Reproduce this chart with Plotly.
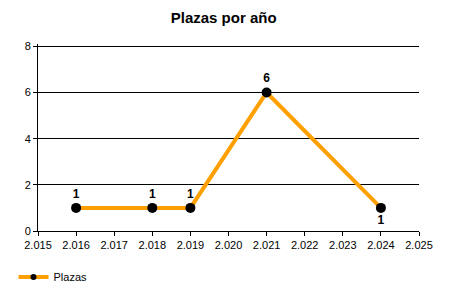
import plotly.graph_objects as go

years = [2016, 2018, 2019, 2021, 2024]
plazas = [1, 1, 1, 6, 1]
label_pos = ["top center", "top center", "top center", "top center", "bottom center"]
x_ticks = list(range(2015, 2026))
x_tick_labels = ["2.%03d" % (t - 2000) for t in x_ticks]
y_ticks = [0, 2, 4, 6, 8]

fig = go.Figure()
fig.add_trace(go.Scatter(
    x=years, y=plazas, mode="lines+markers+text", name="Plazas", showlegend=False,
    line=dict(color="#FFA000", width=4),
    marker=dict(color="black", size=10),
    text=[str(v) for v in plazas], textposition=label_pos,
    textfont=dict(family="Liberation Sans, Arial", size=12, color="black", weight="bold"),
    cliponaxis=False,
))
# legend entry with a smaller marker, as in the reference
fig.add_trace(go.Scatter(
    x=[None], y=[None], mode="lines+markers", name="Plazas",
    line=dict(color="#FFA000", width=4),
    marker=dict(color="black", size=6),
))

fig.update_layout(
    width=450, height=300,
    margin=dict(l=38, r=31, t=44, b=69),
    paper_bgcolor="white", plot_bgcolor="white",
    font=dict(family="Liberation Sans, Arial", size=11, color="black"),
    title=dict(text="<b>Plazas por año</b>", x=0.497, xanchor="center", y=1 - 18/300, yanchor="middle",
               font=dict(size=15, color="black")),
    showlegend=True,
    legend=dict(orientation="h", xref="container", yref="container", x=0.03, y=1 - 277/300,
                xanchor="left", yanchor="middle", font=dict(size=11)),
    xaxis=dict(range=[2015, 2025], tickvals=x_ticks, ticktext=x_tick_labels,
               showgrid=False, zeroline=False, showline=True, linecolor="black", linewidth=1,
               ticks="outside", ticklen=4, tickcolor="black"),
    yaxis=dict(range=[0, 8.1], tickvals=y_ticks, showgrid=True, gridcolor="black", gridwidth=1,
               zeroline=False, showline=True, linecolor="black", linewidth=1,
               ticks="outside", ticklen=4, tickcolor="black"),
)

fig.write_html("out.html")
